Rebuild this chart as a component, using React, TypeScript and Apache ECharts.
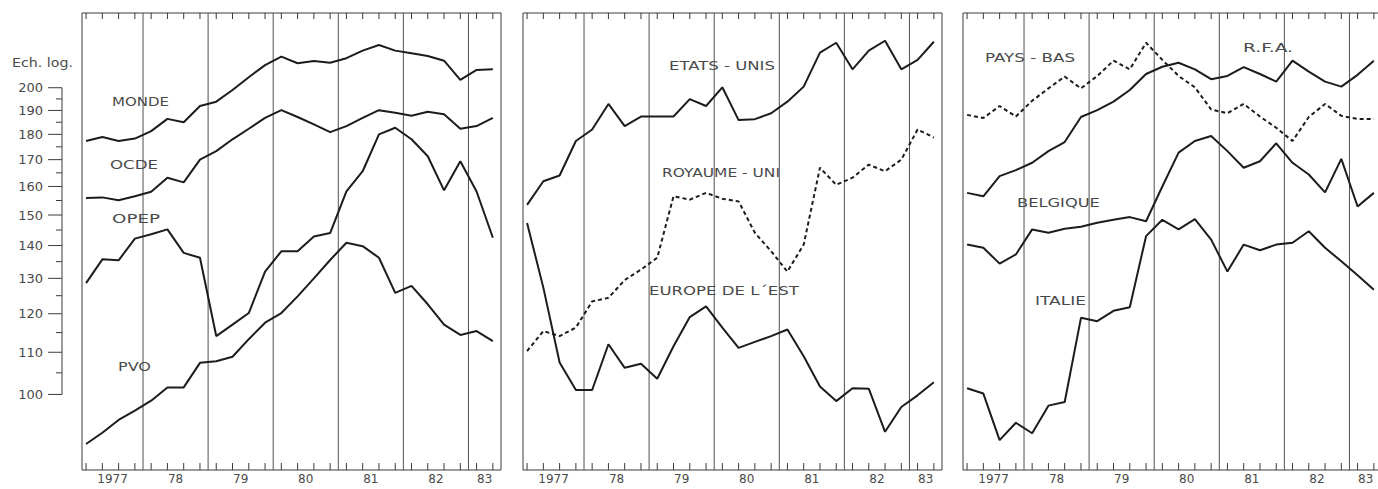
import React, { useEffect, useRef } from "react";
import * as echarts from "echarts";

// ---- data (quarterly indices, 1977 T1 .. 1983 T2, log scale) ----
const quarters = [
  "1977 T1", "1977 T2", "1977 T3", "1977 T4",
  "1978 T1", "1978 T2", "1978 T3", "1978 T4",
  "1979 T1", "1979 T2", "1979 T3", "1979 T4",
  "1980 T1", "1980 T2", "1980 T3", "1980 T4",
  "1981 T1", "1981 T2", "1981 T3", "1981 T4",
  "1982 T1", "1982 T2", "1982 T3", "1982 T4",
  "1983 T1", "1983 T2",
];
const yearLabels = ["1977", "78", "79", "80", "81", "82", "83"];
const rulerTicks = [100, 105, 110, 115, 120, 125, 130, 135, 140, 145, 150, 155, 160, 165, 170, 175, 180, 185, 190, 195, 200];

const monde = [177.3, 178.9, 177.3, 178.3, 181.3, 186.4, 185.0, 191.9, 193.8, 199.0, 204.8, 210.5, 214.6, 211.4, 212.5, 211.6, 213.8, 217.5, 220.3, 217.5, 216.2, 214.9, 212.6, 203.6, 208.2, 208.5];
const ocde = [155.9, 156.1, 155.1, 156.5, 158.1, 163.2, 161.5, 170.0, 173.3, 178.0, 182.3, 186.8, 190.1, 187.2, 184.1, 180.9, 183.4, 186.8, 190.1, 189.0, 187.7, 189.4, 188.4, 182.3, 183.4, 186.8];
const opep = [128.6, 135.7, 135.4, 142.2, 143.6, 145.2, 137.7, 136.2, 114.1, 117.1, 120.2, 132.0, 138.2, 138.2, 142.9, 144.0, 158.2, 165.6, 180.0, 182.7, 178.0, 171.3, 158.6, 169.4, 158.2, 142.5];
const pvo = [89.4, 91.7, 94.4, 96.4, 98.6, 101.6, 101.6, 107.4, 107.8, 108.9, 113.3, 117.6, 120.2, 124.8, 130.0, 135.5, 140.9, 139.8, 136.2, 125.8, 127.8, 122.6, 117.1, 114.4, 115.4, 112.8];

const etatsUnis = [153.5, 161.9, 164.0, 177.3, 182.0, 192.8, 183.4, 187.4, 187.4, 187.4, 194.9, 191.9, 200.2, 185.9, 186.3, 188.8, 193.8, 200.5, 216.5, 221.4, 208.5, 217.5, 222.4, 208.5, 213.0, 221.9];
const royaumeUni = [110.3, 115.4, 114.1, 116.3, 123.4, 124.4, 129.5, 132.6, 136.2, 156.5, 155.3, 157.7, 155.6, 154.7, 144.1, 138.2, 132.0, 140.3, 166.9, 160.6, 163.2, 168.1, 165.6, 170.0, 182.0, 178.7];
const europeEst = [147.3, 127.3, 107.5, 101.0, 101.0, 112.0, 106.2, 107.2, 103.6, 111.5, 119.1, 122.0, 116.3, 111.1, 112.6, 114.1, 115.8, 109.0, 101.8, 98.5, 101.4, 101.3, 91.9, 97.2, 99.8, 102.8];

const paysBas = [188.1, 186.8, 191.9, 187.4, 194.2, 199.7, 205.1, 199.7, 205.4, 212.6, 208.5, 221.4, 213.0, 205.4, 200.2, 190.4, 188.8, 192.8, 187.4, 182.7, 177.3, 187.2, 192.8, 187.7, 186.4, 186.4];
const rfa = [157.7, 156.5, 163.8, 166.0, 168.8, 173.3, 176.9, 187.2, 190.1, 193.8, 199.0, 206.3, 209.7, 211.6, 208.5, 203.9, 205.4, 209.5, 206.3, 202.8, 212.6, 207.4, 202.8, 200.5, 205.9, 212.6];
const belgique = [140.3, 139.3, 134.4, 137.2, 145.2, 144.1, 145.4, 146.1, 147.4, 148.4, 149.3, 147.9, 160.0, 172.7, 177.3, 179.3, 173.3, 166.9, 169.4, 176.4, 168.8, 164.4, 157.9, 170.3, 152.9, 157.7];
const italie = [101.4, 100.2, 90.2, 93.8, 91.6, 97.5, 98.3, 118.9, 118.0, 120.8, 121.8, 143.0, 148.4, 145.2, 148.6, 141.9, 132.0, 140.3, 138.5, 140.3, 140.9, 144.6, 139.3, 135.1, 130.9, 126.7];

// ---- layout / style ----
const X_MIN = 0.25;
const X_MAX = 26;
const Y_MIN = 84.3;
const Y_MAX = 236.8;
const GRID_TOP = 13;
const GRID_HEIGHT = 457;
const GRID_WIDTH = 419;
const PANEL_LEFT = [82, 523, 963];
const CHART_WIDTH = 1392; // wider than the window: the third panel runs past the right edge
const CHART_HEIGHT = 489;
const LINE_COLOR = "#1c1c1c";
const FRAME_COLOR = "#3a3a3a";
const TEXT_COLOR = "#4a4a4a";
const FONT = '"DejaVu Sans", sans-serif';

const panels = [
  [
    { name: "MONDE", data: monde, dashed: false },
    { name: "OCDE", data: ocde, dashed: false },
    { name: "OPEP", data: opep, dashed: false },
    { name: "PVO", data: pvo, dashed: false },
  ],
  [
    { name: "ETATS - UNIS", data: etatsUnis, dashed: false },
    { name: "ROYAUME - UNI", data: royaumeUni, dashed: true },
    { name: "EUROPE DE L´EST", data: europeEst, dashed: false },
  ],
  [
    { name: "PAYS - BAS", data: paysBas, dashed: true },
    { name: "R.F.A.", data: rfa, dashed: false },
    { name: "BELGIQUE", data: belgique, dashed: false },
    { name: "ITALIE", data: italie, dashed: false },
  ],
];

const textLabels = [
  { text: "Ech. log.", x: 12, y: 62, w: 61 },
  { text: "MONDE", x: 112, y: 101, w: 57 },
  { text: "OCDE", x: 110, y: 165, w: 48 },
  { text: "OPEP", x: 112, y: 218, w: 48 },
  { text: "PVO", x: 118, y: 366, w: 33 },
  { text: "ETATS - UNIS", x: 669, y: 66, w: 106 },
  { text: "ROYAUME - UNI", x: 662, y: 172, w: 118 },
  { text: "EUROPE DE L´EST", x: 649, y: 291, w: 150 },
  { text: "PAYS - BAS", x: 985, y: 58, w: 90 },
  { text: "R.F.A.", x: 1243, y: 48, w: 50 },
  { text: "BELGIQUE", x: 1017, y: 202, w: 83 },
  { text: "ITALIE", x: 1035, y: 301, w: 51 },
];

const qx = (i: number) => i + 0.5;

function measure(text: string, font: string): number {
  const c = document.createElement("canvas").getContext("2d");
  if (!c) return text.length * 8;
  c.font = font;
  return c.measureText(text).width;
}

export default function App() {
  const ref = useRef<HTMLDivElement>(null);

  useEffect(() => {
    document.body.style.margin = "0";
    document.body.style.overflow = "hidden";
    if (!ref.current) return;
    const chart = echarts.init(ref.current, undefined, { renderer: "svg" });

    const grids = PANEL_LEFT.map((left) => ({
      left,
      top: GRID_TOP,
      width: GRID_WIDTH,
      height: GRID_HEIGHT,
      show: true,
      borderColor: FRAME_COLOR,
      borderWidth: 1,
      backgroundColor: "transparent",
    }));
    const xAxes = PANEL_LEFT.map((_, g) => ({
      gridIndex: g, type: "value", min: X_MIN, max: X_MAX, show: false,
    }));
    const yAxes = PANEL_LEFT.map((_, g) => ({
      gridIndex: g, type: "log", logBase: 10, min: Y_MIN, max: Y_MAX, show: false,
    }));

    const series: any[] = [];

    PANEL_LEFT.forEach((_, g) => {
      // frame: quarter ticks top & bottom, year separators
      series.push({
        type: "custom",
        xAxisIndex: g,
        yAxisIndex: g,
        silent: true,
        z: 1,
        data: quarters.map((_, i) => [qx(i), Y_MIN]),
        renderItem: (params: any, api: any) => {
          const x = api.value(0);
          const b = api.coord([x, Y_MIN]);
          const t = api.coord([x, Y_MAX]);
          const st = { stroke: FRAME_COLOR, lineWidth: 1 };
          const children: any[] = [
            { type: "line", shape: { x1: b[0], y1: b[1], x2: b[0], y2: b[1] - 7 }, style: st },
            { type: "line", shape: { x1: t[0], y1: t[1], x2: t[0], y2: t[1] + 6 }, style: st },
          ];
          const i = params.dataIndex;
          if (i > 0 && i % 4 === 0) {
            const lb = api.coord([i, Y_MIN]);
            const lt = api.coord([i, Y_MAX]);
            children.push({
              type: "line",
              shape: { x1: lb[0], y1: lb[1], x2: lt[0], y2: lt[1] },
              style: { stroke: "#505050", lineWidth: 1 },
            });
          }
          return { type: "group", children };
        },
      });
      // year labels
      series.push({
        type: "custom",
        xAxisIndex: g,
        yAxisIndex: g,
        silent: true,
        z: 1,
        data: yearLabels.map((_, k) => {
          const a = Math.max(4 * k, X_MIN);
          const b = Math.min(4 * k + 4, X_MAX);
          return [(a + b) / 2, Y_MIN];
        }),
        renderItem: (params: any, api: any) => {
          const p = api.coord([api.value(0), Y_MIN]);
          return {
            type: "text",
            x: p[0],
            y: p[1] + 3,
            style: {
              text: yearLabels[params.dataIndex],
              fill: TEXT_COLOR,
              font: `12px ${FONT}`,
              align: "center",
              verticalAlign: "top",
            },
          };
        },
      });
      // data lines
      panels[g].forEach((s) => {
        series.push({
          type: "line",
          name: s.name,
          xAxisIndex: g,
          yAxisIndex: g,
          data: s.data.map((v, i) => [qx(i), v]),
          symbol: "none",
          z: 3,
          lineStyle: {
            color: LINE_COLOR,
            width: 2,
            type: s.dashed ? [4, 3] : "solid",
          },
        });
      });
    });

    // log ruler on the left of panel 1
    series.push({
      type: "custom",
      xAxisIndex: 0,
      yAxisIndex: 0,
      silent: true,
      z: 1,
      data: rulerTicks.map((v) => [X_MIN, v]),
      renderItem: (params: any, api: any) => {
        const v = api.value(1);
        const p = api.coord([X_MIN, v]);
        const x = p[0] - 20;
        const major = v % 10 === 0;
        const st = { stroke: FRAME_COLOR, lineWidth: 1 };
        const children: any[] = [
          { type: "line", shape: { x1: x - (major ? 14 : 6), y1: p[1], x2: x, y2: p[1] }, style: st },
        ];
        const idx = params.dataIndex;
        if (idx < rulerTicks.length - 1) {
          const p2 = api.coord([X_MIN, rulerTicks[idx + 1]]);
          children.push({ type: "line", shape: { x1: x, y1: p[1], x2: x, y2: p2[1] }, style: st });
        }
        if (major) {
          children.push({
            type: "text",
            x: x - 19,
            y: p[1],
            style: {
              text: String(v),
              fill: TEXT_COLOR,
              font: `13px ${FONT}`,
              align: "right",
              verticalAlign: "middle",
            },
          });
        }
        return { type: "group", children };
      },
    });

    const labelFont = `13px ${FONT}`;
    const graphic = textLabels.map((l) => ({
      type: "text",
      x: l.x,
      y: l.y,
      scaleX: l.w / measure(l.text, labelFont),
      silent: true,
      z: 10,
      style: {
        text: l.text,
        font: labelFont,
        fill: TEXT_COLOR,
        verticalAlign: "middle",
      },
    }));

    chart.setOption({
      animation: false,
      backgroundColor: "#ffffff",
      grid: grids,
      xAxis: xAxes,
      yAxis: yAxes,
      series,
      graphic,
    });

    return () => {
      chart.dispose();
    };
  }, []);

  return <div ref={ref} style={{ width: CHART_WIDTH, height: CHART_HEIGHT }} />;
}
